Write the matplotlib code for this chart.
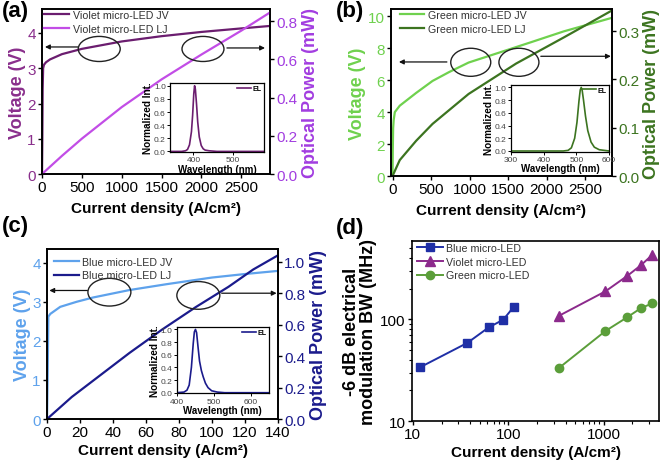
import matplotlib
matplotlib.use('Agg')
import matplotlib.pyplot as plt
from matplotlib.patches import Ellipse
from matplotlib.ticker import LogLocator, NullFormatter

plt.rcParams['font.family'] = ['Liberation Sans', 'DejaVu Sans']

# ---------------- data ----------------
# (a) violet
violet_jv_J = [0, 4, 8, 14, 25, 50, 100, 250, 500, 1000, 1500, 2000, 2500, 2860]
violet_jv_V = [0, 1.0, 2.4, 3.0, 3.1, 3.17, 3.25, 3.4, 3.55, 3.76, 3.91, 4.03, 4.13, 4.2]
violet_lj_J = [0, 250, 500, 1000, 1500, 2000, 2500, 2860]
violet_lj_P = [0, 0.095, 0.185, 0.35, 0.495, 0.625, 0.75, 0.845]
violet_el_wl = [340, 370, 380, 385, 390, 395, 398, 401, 403, 405, 408, 411, 415, 420, 425, 430, 440, 460, 500, 580]
violet_el_I = [0, 0, 0.01, 0.03, 0.1, 0.3, 0.55, 0.88, 1.0, 0.95, 0.72, 0.45, 0.22, 0.09, 0.04, 0.02, 0.01, 0, 0, 0]

# (b) green
green_jv_J = [0, 3, 8, 15, 30, 94, 307, 520, 733, 988, 1371, 1797, 2223, 2850]
green_jv_V = [0, 1.5, 3.0, 3.5, 4.0, 4.4, 5.2, 5.95, 6.5, 7.1, 7.7, 8.37, 9.05, 9.9]
green_lj_J = [0, 94, 307, 520, 988, 1605, 2223, 2850]
green_lj_P = [0, 0.033, 0.073, 0.108, 0.17, 0.233, 0.287, 0.343]
green_el_wl = [300, 460, 475, 485, 495, 502, 508, 512, 515, 518, 522, 528, 535, 545, 555, 570, 600]
green_el_I = [0, 0, 0.01, 0.05, 0.2, 0.45, 0.78, 0.96, 1.0, 0.95, 0.8, 0.55, 0.32, 0.14, 0.06, 0.02, 0]

# (c) blue
blue_jv_J = [0, 0.4, 0.8, 2, 8, 18, 28, 50, 72.5, 100, 120, 140]
blue_jv_V = [0, 1.2, 2.62, 2.69, 2.87, 3.0, 3.11, 3.3, 3.45, 3.62, 3.71, 3.79]
blue_lj_J = [0, 15, 30, 50, 70, 90, 110, 125, 140]
blue_lj_P = [0, 0.14, 0.26, 0.42, 0.57, 0.71, 0.84, 0.95, 1.04]
blue_el_wl = [400, 420, 428, 434, 440, 445, 448, 451, 454, 458, 462, 467, 472, 478, 485, 495, 510, 530, 650]
blue_el_I = [0, 0.01, 0.04, 0.12, 0.4, 0.78, 0.96, 1.0, 0.95, 0.72, 0.5, 0.35, 0.25, 0.15, 0.08, 0.03, 0.01, 0, 0]

# (d) bandwidth
bw_blue_J = [11.9, 37.3, 62.5, 88.6, 114.8]
bw_blue = [33.8, 58.8, 83.6, 99.4, 134]
bw_vg_J = [336, 1042, 1762, 2449, 3228]
bw_violet = [108, 189, 268, 341, 432]
bw_green = [33.0, 76.9, 105, 129, 144]

# colours
C_VJV, C_VLJ, C_VAX_L, C_VAX_R = '#6b1d6f', '#c24de6', '#8a2f8c', '#a23de0'
C_GJV, C_GLJ = '#6fd14e', '#3c7420'
C_BJV, C_BLJ = '#5ea2ec', '#1b1b8c'
C_DB, C_DV, C_DG = '#1f2fa6', '#8c2a8c', '#5b9e3a'

fig = plt.figure(figsize=(6.68, 4.64), dpi=100)

TICK = 11
LAB = 13
XLABSZ = 11
XLAB = 'Current density (A/cm²)'
SPW = 1.2


def style(ax):
    for s in ax.spines.values():
        s.set_linewidth(SPW)
    ax.tick_params(width=1.0, length=3, labelsize=TICK, pad=1.5)


def jv_panel(rect, Jv, V, Jl, P, cjv, clj, cl, cr, labels, xlim, ylim1, ylim2,
             yticks1, yticks2, ytl2, xticks, ells, arrs, leg_anchor,
             inset_rect, wl, I, cel, ixlim, ixticks, xlabpad):
    ax = fig.add_axes(rect)
    ax2 = ax.twinx()
    l1, = ax.plot(Jv, V, color=cjv, lw=1.6)
    l2, = ax2.plot(Jl, P, color=clj, lw=1.6)
    ax.set_xlim(*xlim)
    ax.set_ylim(*ylim1)
    ax2.set_ylim(*ylim2)
    ax.set_xticks(xticks)
    ax.set_yticks(yticks1)
    ax2.set_yticks(yticks2)
    ax2.set_yticklabels(ytl2)
    style(ax)
    style(ax2)
    ax.tick_params(axis='y', labelcolor=cl)
    ax2.tick_params(axis='y', labelcolor=cr)
    ax.set_ylabel('Voltage (V)', color=cl, fontsize=LAB, fontweight='bold', labelpad=1)
    ax2.set_ylabel('Optical Power (mW)', color=cr, fontsize=LAB, fontweight='bold', labelpad=3)
    ax.set_xlabel(XLAB, fontsize=XLABSZ, fontweight='bold', labelpad=xlabpad)
    for (cx, cy, w, h) in ells:
        ax2.add_patch(Ellipse((cx, cy), w, h, transform=ax2.transAxes, fill=False,
                              ec='#222222', lw=1.0, zorder=5))
    for (x0, x1, y) in arrs:
        ax2.annotate('', xy=(x1, y), xytext=(x0, y), xycoords='axes fraction',
                     arrowprops=dict(arrowstyle='-|>', color='#111111', lw=0.9,
                                     mutation_scale=7, shrinkA=0, shrinkB=0))
    ax2.legend([l1, l2], labels, loc='upper left', bbox_to_anchor=leg_anchor,
               frameon=False, fontsize=7.7, handlelength=2.3, handletextpad=0.35,
               labelspacing=0.35, borderaxespad=0, borderpad=0, labelcolor='#333333')
    # inset
    x0, y0, w, h = inset_rect
    ins = ax2.inset_axes([x0, y0, w, h])
    ins.plot(wl, I, color=cel, lw=1.2, label='EL')
    ins.set_xlim(*ixlim)
    ins.set_ylim(-0.01, 1.04)
    ins.set_xticks(ixticks)
    ins.set_yticks([0, 0.2, 0.4, 0.6, 0.8, 1.0])
    ins.set_yticklabels(['0.0', '0.2', '0.4', '0.6', '0.8', '1.0'])
    for s in ins.spines.values():
        s.set_linewidth(0.9)
    ins.tick_params(labelsize=6, length=2, width=0.7, pad=1, labelcolor='#444444')
    ins.set_xlabel('Wavelength (nm)', fontsize=7, fontweight='bold', labelpad=0.5)
    ins.set_ylabel('Normalized Int.', fontsize=7.2, fontweight='bold', labelpad=0.5)
    ins.legend(loc='upper right', frameon=False, handlelength=2.0,
               handletextpad=0.3, borderaxespad=0.2, borderpad=0.1,
               prop={'weight': 'bold', 'size': 5})
    return ax


# (a)
jv_panel([0.0629, 0.6228, 0.3413, 0.3556], violet_jv_J, violet_jv_V, violet_lj_J, violet_lj_P,
         C_VJV, C_VLJ, C_VAX_L, C_VAX_R, ['Violet micro-LED JV', 'Violet micro-LED LJ'],
         (0, 2860), (0, 4.68), (0, 0.863), [0, 1, 2, 3, 4], [0, 0.2, 0.4, 0.6, 0.8],
         ['0.0', '0.2', '0.4', '0.6', '0.8'], [0, 500, 1000, 1500, 2000, 2500],
         [(0.251, 0.758, 0.184, 0.152), (0.706, 0.758, 0.184, 0.152)],
         [(0.158, 0.013, 0.77), (0.811, 0.978, 0.764)], (0.01, 0.995),
         (0.561, 0.133, 0.412, 0.418), violet_el_wl, violet_el_I, C_VJV, (340, 580), [400, 500], 5)

# (b)
jv_panel([0.5853, 0.6185, 0.3308, 0.3599], green_jv_J, green_jv_V, green_lj_J, green_lj_P,
         C_GJV, C_GLJ, C_GJV, C_GLJ, ['Green micro-LED JV', 'Green micro-LED LJ'],
         (-20, 2850), (0, 10.45), (0, 0.346), [0, 2, 4, 6, 8, 10], [0, 0.1, 0.2, 0.3],
         ['0.0', '0.1', '0.2', '0.3'], [0, 500, 1000, 1500, 2000, 2500],
         [(0.361, 0.681, 0.181, 0.168), (0.579, 0.681, 0.181, 0.168)],
         [(0.253, 0.036, 0.683), (0.678, 0.995, 0.717)], (0.04, 0.995),
         (0.542, 0.146, 0.445, 0.40), green_el_wl, green_el_I, C_GLJ, (300, 600), [300, 400, 500, 600], 5)

# (c)
jv_panel([0.0704, 0.0948, 0.3458, 0.3664], blue_jv_J, blue_jv_V, blue_lj_J, blue_lj_P,
         C_BJV, C_BLJ, C_BJV, C_BLJ, ['Blue micro-LED JV', 'Blue micro-LED LJ'],
         (0, 140), (0, 4.35), (0, 1.08), [0, 1, 2, 3, 4], [0, 0.2, 0.4, 0.6, 0.8, 1.0],
         ['0.0', '0.2', '0.4', '0.6', '0.8', '1.0'], [0, 20, 40, 60, 80, 100, 120, 140],
         [(0.27, 0.746, 0.186, 0.163), (0.655, 0.727, 0.186, 0.163)],
         [(0.175, 0.01, 0.756), (0.756, 0.994, 0.74)], (0.03, 0.955),
         (0.561, 0.151, 0.40, 0.391), blue_el_wl, blue_el_I, C_BLJ, (400, 650), [400, 500, 600], 2.5)

# (d)
axd = fig.add_axes([0.6168, 0.0905, 0.3698, 0.388])
axd.plot(bw_blue_J, bw_blue, '-s', color=C_DB, lw=1.4, ms=5.5, label='Blue micro-LED')
axd.plot(bw_vg_J, bw_violet, '-^', color=C_DV, lw=1.4, ms=6.5, label='Violet micro-LED')
axd.plot(bw_vg_J, bw_green, '-o', color=C_DG, lw=1.4, ms=6, label='Green micro-LED')
axd.set_xscale('log')
axd.set_yscale('log')
axd.set_xlim(9.8, 3800)
axd.set_ylim(10, 592)
axd.set_xticks([10, 100, 1000])
axd.set_xticklabels(['10', '100', '1000'])
axd.set_yticks([10, 100])
axd.set_yticklabels(['10', '100'])
axd.xaxis.set_minor_locator(LogLocator(base=10, subs=range(2, 10)))
axd.yaxis.set_minor_locator(LogLocator(base=10, subs=range(2, 10)))
axd.xaxis.set_minor_formatter(NullFormatter())
axd.yaxis.set_minor_formatter(NullFormatter())
style(axd)
axd.tick_params(which='minor', length=2, width=0.8)
axd.set_ylabel('-6 dB electrical\nmodulation BW (MHz)', fontsize=13, fontweight='bold',
               labelpad=2, linespacing=1.0)
axd.set_xlabel(XLAB, fontsize=XLABSZ, fontweight='bold', labelpad=2.5)
axd.legend(loc='upper left', bbox_to_anchor=(0.02, 0.99), frameon=False, fontsize=7.7,
           handlelength=2.4, handletextpad=0.3, labelspacing=0.35, borderaxespad=0,
           borderpad=0, labelcolor='#333333')

# panel labels
for x, y, t in [(0.003, 0.998, '(a)'), (0.503, 0.998, '(b)'), (0.003, 0.535, '(c)'), (0.503, 0.53, '(d)')]:
    fig.text(x, y, t, fontsize=16, fontweight='bold', va='top', ha='left')

fig.savefig('out.png', dpi=100)
